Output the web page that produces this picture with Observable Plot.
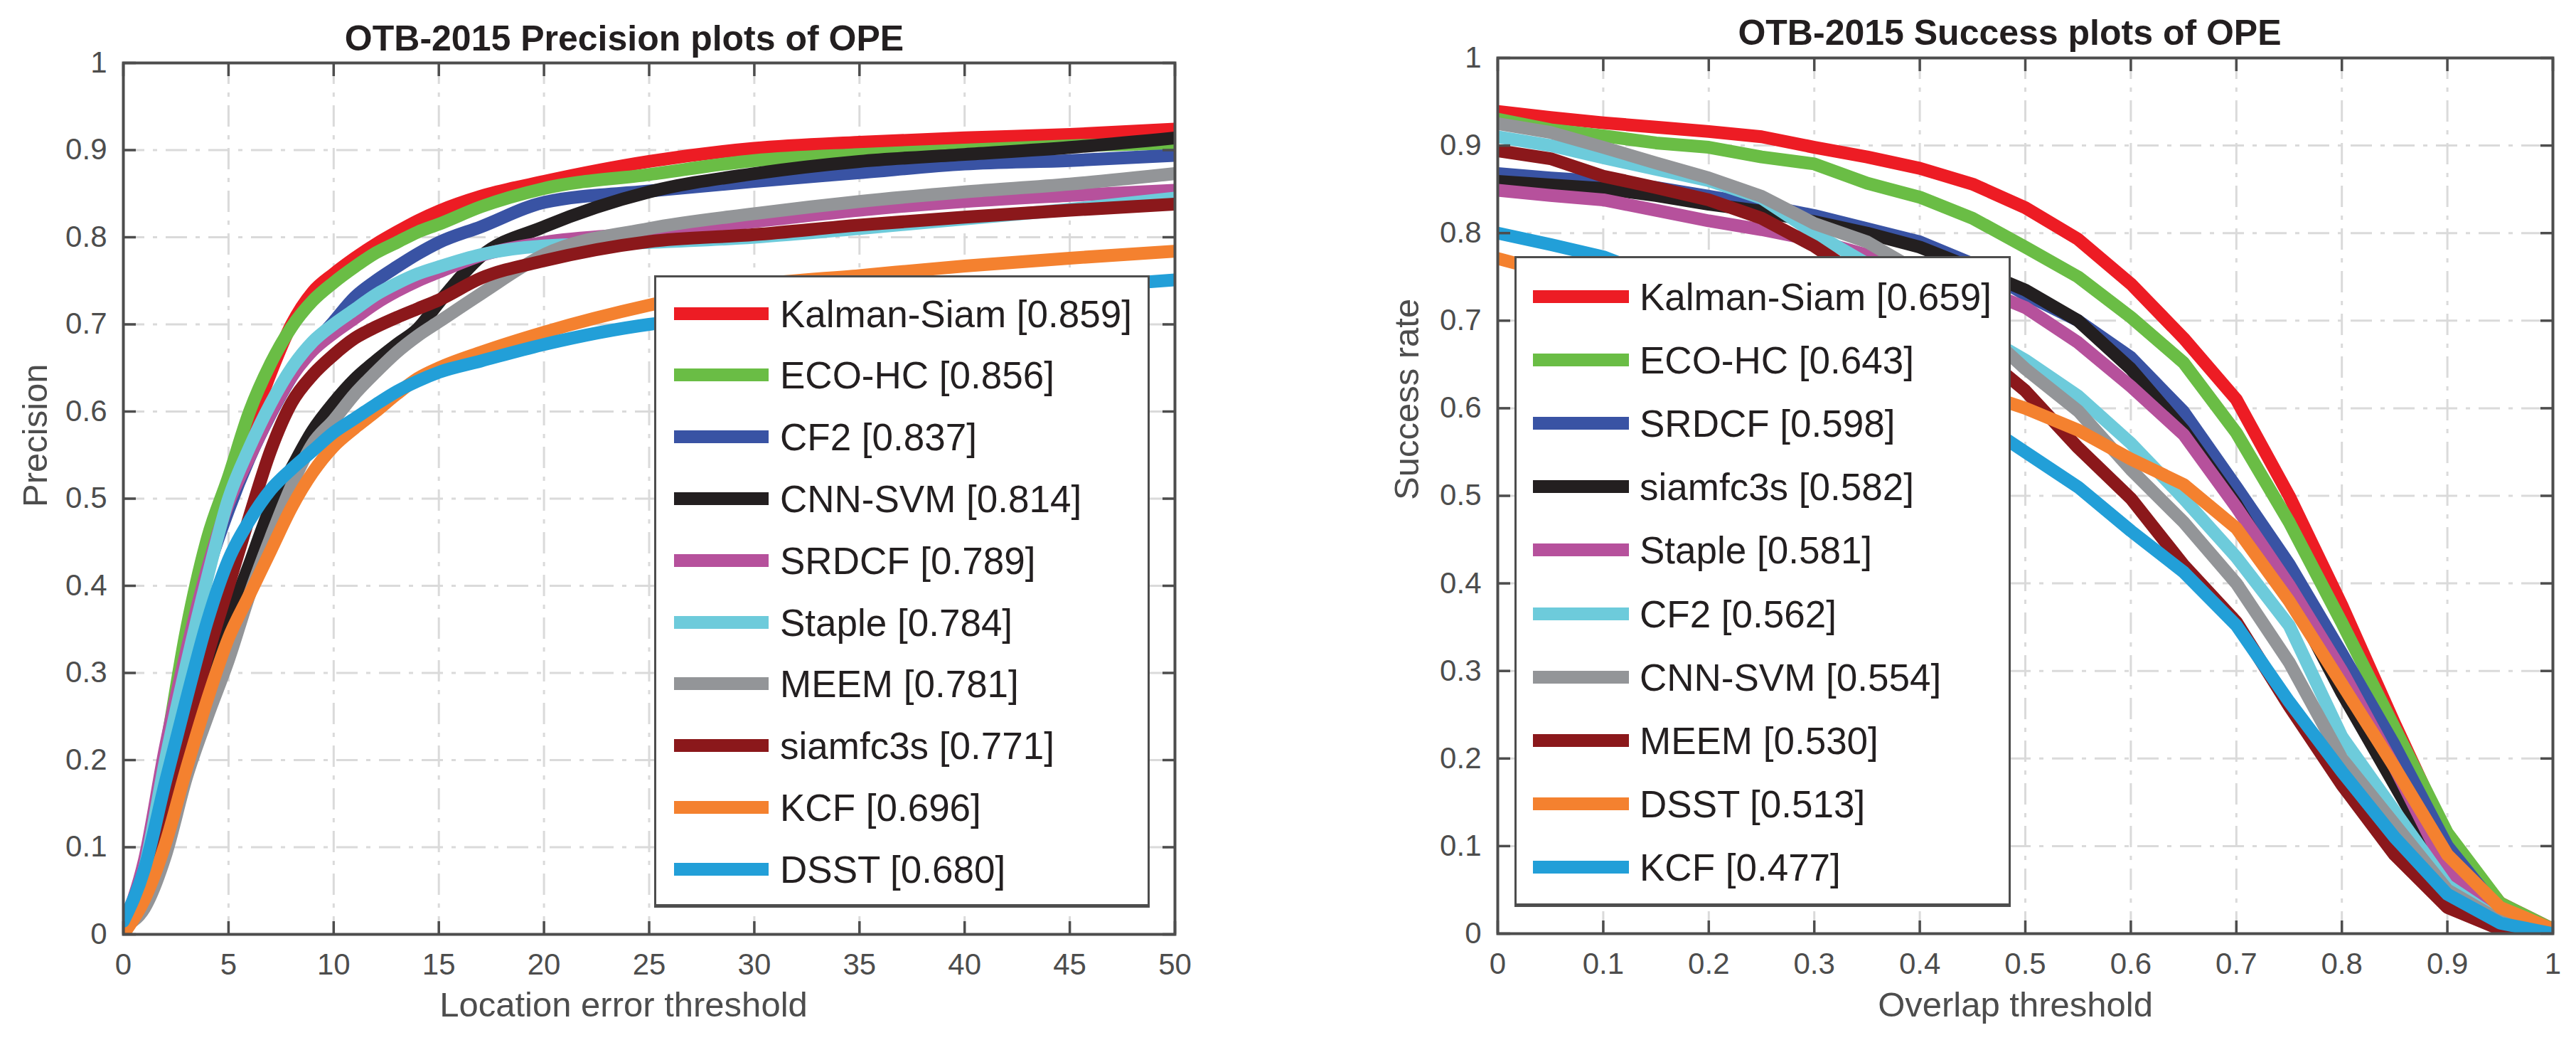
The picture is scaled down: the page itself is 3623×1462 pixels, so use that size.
<!DOCTYPE html>
<html><head><meta charset="utf-8">
<script src="https://cdn.jsdelivr.net/npm/d3@7"></script>
<script src="https://cdn.jsdelivr.net/npm/@observablehq/plot@0.6"></script>
<style>
body{margin:0;background:#fff;}
#wrap{position:relative;width:3623px;height:1462px;background:#fff;overflow:hidden;font-family:"Liberation Sans",Arial,Helvetica,sans-serif;}
#wrap svg{position:absolute;top:0;}
.legend{position:absolute;background:#fff;border:3px solid #4d4d4d;border-bottom-width:5px;box-sizing:border-box;}
.sw{position:absolute;height:18px;}
.lbl{position:absolute;font-size:53px;color:#231f20;white-space:nowrap;line-height:1;}
</style></head>
<body><div id="wrap"></div>
<script>
// ---------------- Precision plot data ----------------
const precThresholds = [0,1,2,3,4,5,6,7,8,9,10,11,12,13,14,15,17,20,25,30,35,40,45,50];
const precNames = ["Kalman-Siam [0.859]","ECO-HC [0.856]","CF2 [0.837]","CNN-SVM [0.814]","SRDCF [0.789]","Staple [0.784]","MEEM [0.781]","siamfc3s [0.771]","KCF [0.696]","DSST [0.680]"];
const precKalman = [0.01,0.075,0.20,0.33,0.43,0.51,0.578,0.644,0.70,0.737,0.758,0.776,0.792,0.806,0.819,0.83,0.847,0.864,0.887,0.902,0.909,0.914,0.918,0.924];
const precECO    = [0.01,0.08,0.21,0.35,0.455,0.525,0.60,0.655,0.697,0.727,0.748,0.766,0.782,0.794,0.806,0.815,0.835,0.856,0.872,0.888,0.895,0.90,0.905,0.908];
const precCF2    = [0.01,0.07,0.19,0.31,0.415,0.487,0.547,0.597,0.64,0.675,0.703,0.731,0.75,0.766,0.781,0.794,0.812,0.84,0.853,0.864,0.874,0.884,0.888,0.894];
const precCNN    = [0.005,0.04,0.12,0.21,0.29,0.36,0.425,0.49,0.535,0.578,0.61,0.637,0.658,0.677,0.695,0.725,0.778,0.812,0.852,0.873,0.887,0.895,0.903,0.914];
const precSRDCF  = [0.01,0.085,0.215,0.325,0.42,0.495,0.548,0.598,0.64,0.67,0.69,0.707,0.724,0.738,0.75,0.76,0.779,0.794,0.805,0.818,0.831,0.841,0.848,0.854];
const precStaple = [0.01,0.075,0.20,0.31,0.41,0.50,0.559,0.609,0.65,0.68,0.70,0.717,0.734,0.747,0.758,0.766,0.78,0.79,0.794,0.80,0.81,0.821,0.832,0.845];
const precMEEM   = [0.01,0.03,0.09,0.18,0.25,0.315,0.39,0.455,0.515,0.563,0.59,0.62,0.645,0.668,0.687,0.703,0.735,0.78,0.81,0.827,0.841,0.852,0.861,0.873];
const precSiam   = [0.005,0.05,0.134,0.23,0.32,0.40,0.48,0.555,0.61,0.642,0.665,0.684,0.697,0.708,0.718,0.728,0.753,0.773,0.795,0.803,0.814,0.823,0.831,0.838];
const precKCF    = [0.0,0.04,0.104,0.19,0.27,0.34,0.39,0.44,0.49,0.53,0.56,0.581,0.60,0.62,0.638,0.65,0.668,0.691,0.722,0.745,0.756,0.767,0.776,0.784];
const precDSST   = [0.015,0.075,0.175,0.27,0.36,0.43,0.475,0.51,0.534,0.555,0.576,0.592,0.608,0.623,0.635,0.645,0.658,0.677,0.70,0.71,0.72,0.733,0.742,0.751];
const precSeries = [precKalman,precECO,precCF2,precCNN,precSRDCF,precStaple,precMEEM,precSiam,precKCF,precDSST];

// ---------------- Success plot data ----------------
const succThresholds = [0,0.05,0.1,0.15,0.2,0.25,0.3,0.35,0.4,0.45,0.5,0.55,0.6,0.65,0.7,0.75,0.8,0.85,0.9,0.95,1];
const succNames = ["Kalman-Siam [0.659]","ECO-HC [0.643]","SRDCF [0.598]","siamfc3s [0.582]","Staple [0.581]","CF2 [0.562]","CNN-SVM [0.554]","MEEM [0.530]","DSST [0.513]","KCF [0.477]"];
const succKalman = [0.939,0.932,0.926,0.921,0.916,0.91,0.898,0.887,0.874,0.856,0.829,0.793,0.742,0.68,0.61,0.50,0.375,0.24,0.11,0.035,0.005];
const succECO    = [0.93,0.918,0.911,0.903,0.898,0.887,0.879,0.857,0.841,0.817,0.784,0.75,0.704,0.652,0.572,0.47,0.355,0.235,0.115,0.035,0.005];
const succSRDCF  = [0.868,0.863,0.859,0.852,0.842,0.832,0.82,0.805,0.79,0.765,0.73,0.70,0.658,0.596,0.51,0.422,0.32,0.215,0.10,0.025,0.0];
const succSiamfc = [0.859,0.855,0.851,0.843,0.833,0.825,0.813,0.80,0.784,0.76,0.735,0.70,0.645,0.575,0.49,0.39,0.275,0.17,0.065,0.02,0.0];
const succStaple = [0.849,0.843,0.838,0.826,0.814,0.804,0.792,0.775,0.76,0.74,0.715,0.675,0.625,0.57,0.487,0.398,0.30,0.19,0.07,0.02,0.0];
const succCF2    = [0.91,0.90,0.886,0.873,0.86,0.84,0.80,0.765,0.725,0.69,0.655,0.614,0.56,0.497,0.43,0.352,0.225,0.14,0.055,0.015,0.0];
const succCNN    = [0.925,0.915,0.898,0.88,0.863,0.842,0.811,0.79,0.755,0.70,0.645,0.597,0.53,0.47,0.40,0.31,0.20,0.125,0.05,0.015,0.0];
const succMEEM   = [0.894,0.885,0.865,0.852,0.838,0.817,0.785,0.745,0.71,0.67,0.62,0.555,0.497,0.421,0.356,0.26,0.17,0.09,0.03,0.005,0.0];
const succDSST   = [0.771,0.755,0.74,0.725,0.71,0.69,0.675,0.655,0.64,0.62,0.60,0.575,0.542,0.513,0.463,0.38,0.285,0.19,0.09,0.03,0.005];
const succKCF    = [0.80,0.787,0.773,0.75,0.73,0.705,0.68,0.655,0.625,0.59,0.55,0.51,0.46,0.413,0.352,0.265,0.185,0.11,0.045,0.012,0.0];
const succSeries = [succKalman,succECO,succSRDCF,succSiamfc,succStaple,succCF2,succCNN,succMEEM,succDSST,succKCF];

// rank colours (legend order, same in both panels)
const precColors = ["#ed1c24","#6abd45","#3953a4","#231f20","#b6519c","#6dcbdb","#939598","#8b181b","#f4812f","#229fd8"];
const succColors = ["#ed1c24","#6abd45","#3953a4","#231f20","#b6519c","#6dcbdb","#939598","#8b181b","#f4812f","#229fd8"];

// ticks
const precXTicks = [0,5,10,15,20,25,30,35,40,45,50];
const precXTickLabels = ["0","5","10","15","20","25","30","35","40","45","50"];
const succXTicks = [0,0.1,0.2,0.3,0.4,0.5,0.6,0.7,0.8,0.9,1];
const succXTickLabels = ["0","0.1","0.2","0.3","0.4","0.5","0.6","0.7","0.8","0.9","1"];
const yTicks = [0,0.1,0.2,0.3,0.4,0.5,0.6,0.7,0.8,0.9,1];
const yTickLabels = ["0","0.1","0.2","0.3","0.4","0.5","0.6","0.7","0.8","0.9","1"];

const precTitle = "OTB-2015 Precision plots of OPE";
const succTitle = "OTB-2015 Success plots of OPE";
const precXLabel = "Location error threshold";
const succXLabel = "Overlap threshold";
const precYLabel = "Precision";
const succYLabel = "Success rate";

function tidy(names, thresholds, series) {
  const rows = [];
  names.forEach((n, i) => thresholds.forEach((t, j) => rows.push({name: n, t, v: series[i][j]})));
  return rows;
}

const FONT = '"Liberation Sans", Arial, Helvetica, sans-serif';
const AXC = "#4d4d4d";
const gridStyle = {stroke: "#dadada", strokeOpacity: 1, strokeWidth: 3, strokeDasharray: "30,12,6,12"};

function makePlot(o) {
  const fmt = (ticks, labels) => d => labels[ticks.indexOf(d)];
  return Plot.plot({
    width: o.width, height: 1462,
    marginLeft: o.ml, marginRight: o.mr, marginTop: o.mt, marginBottom: o.mb,
    style: {fontFamily: FONT, background: "transparent", overflow: "visible"},
    x: {domain: o.xDomain},
    y: {domain: [0, 1]},
    color: {domain: o.names, range: o.colors},
    marks: [
      Plot.gridX(o.xTicks, gridStyle),
      Plot.gridY(yTicks, gridStyle),
      Plot.line(o.data, {x: "t", y: "v", z: "name", stroke: "name", strokeWidth: 18, curve: o.curve, strokeLinejoin: "round", clip: true}),
      Plot.frame({stroke: AXC, strokeWidth: 4}),
      Plot.axisX(o.xTicks, {anchor: "bottom", tickSize: -18, tickPadding: 45, tickFormat: fmt(o.xTicks, o.xTickLabels), fontSize: 42, color: AXC, strokeWidth: 3.5, label: null}),
      Plot.axisX(o.xTicks, {anchor: "top", tickSize: -18, tickFormat: () => "", color: AXC, strokeWidth: 3.5, label: null}),
      Plot.axisY(yTicks, {anchor: "left", tickSize: -18, tickPadding: 41, tickFormat: fmt(yTicks, yTickLabels), fontSize: 42, color: AXC, strokeWidth: 3.5, label: null}),
      Plot.axisY(yTicks, {anchor: "right", tickSize: -18, tickFormat: () => "", color: AXC, strokeWidth: 3.5, label: null}),
      Plot.text([o.title], {text: d => d, frameAnchor: "top", lineAnchor: "bottom", dy: o.titleDy, dx: o.titleDx, fontSize: 50, fontWeight: "bold", fill: "#231f20"}),
      Plot.text([o.xLabel], {text: d => d, frameAnchor: "bottom", lineAnchor: "bottom", dy: o.xLabelDy, dx: o.xLabelDx, fontSize: 49, fill: AXC}),
      Plot.text([o.yLabel], {text: d => d, frameAnchor: "left", rotate: -90, lineAnchor: "middle", dx: o.yLabelDx, dy: o.yLabelDy, fontSize: 49, fill: AXC})
    ]
  });
}

const wrap = document.getElementById("wrap");

const left = makePlot({
  width: 1800, ml: 173, mr: 148, mt: 88, mb: 149,
  xDomain: [0, 50], xTicks: precXTicks, xTickLabels: precXTickLabels,
  names: precNames, colors: precColors, data: tidy(precNames, precThresholds, precSeries),
  curve: "monotone-x",
  title: precTitle, titleDx: -35, titleDy: -18,
  xLabel: precXLabel, xLabelDx: -36, xLabelDy: 115,
  yLabel: precYLabel, yLabelDx: -123, yLabelDy: 12
});
left.style.left = "0px";
wrap.appendChild(left);

const right = makePlot({
  width: 1823, ml: 306, mr: 33, mt: 81, mb: 150,
  xDomain: [0, 1], xTicks: succXTicks, xTickLabels: succXTickLabels,
  names: succNames, colors: succColors, data: tidy(succNames, succThresholds, succSeries),
  curve: "linear",
  title: succTitle, titleDx: -22, titleDy: -19,
  xLabel: succXLabel, xLabelDx: -14, xLabelDy: 116,
  yLabel: succYLabel, yLabelDx: -127, yLabelDy: 6
});
right.style.left = "1800px";
wrap.appendChild(right);

// ---------------- legends (HTML boxes) ----------------
function legend(box, names, colors) {
  const div = document.createElement("div");
  div.className = "legend";
  Object.assign(div.style, {left: box.x + "px", top: box.y + "px", width: box.w + "px", height: box.h + "px"});
  names.forEach((n, i) => {
    const cy = box.firstY + i * box.step - box.y - 3;
    const sw = document.createElement("div");
    sw.className = "sw";
    Object.assign(sw.style, {left: (box.swX - box.x - 3) + "px", width: box.swW + "px", top: (cy - 9) + "px", background: colors[i]});
    const t = document.createElement("div");
    t.className = "lbl";
    t.textContent = n;
    Object.assign(t.style, {left: (box.txtX - box.x - 3) + "px", top: (cy - 26) + "px"});
    div.appendChild(sw);
    div.appendChild(t);
  });
  wrap.appendChild(div);
}
legend({x: 920, y: 387, w: 697, h: 889, firstY: 440.6, step: 86.8, swX: 948, swW: 133, txtX: 1097}, precNames, precColors);
legend({x: 2130, y: 360, w: 698, h: 915, firstY: 417, step: 89.1, swX: 2156, swW: 135, txtX: 2306}, succNames, succColors);
</script></body></html>
